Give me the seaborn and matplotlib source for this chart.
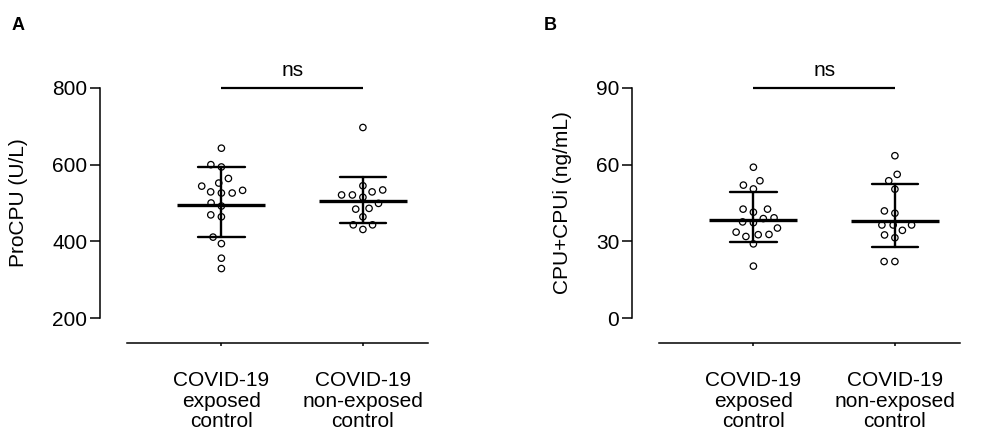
import numpy as np
import pandas as pd
import matplotlib
matplotlib.use("Agg")
import matplotlib.pyplot as plt
import seaborn as sns

# Group labels shared by both panels
groups = ["COVID-19\nexposed\ncontrol", "COVID-19\nnon-exposed\ncontrol"]

# Panel A: ProCPU activity (U/L)
procpu_exposed = [643, 600, 594, 564, 552, 544, 533, 529, 526, 526,
                  500, 492, 469, 464, 411, 394, 356, 329]
procpu_nonexposed = [697, 545, 534, 529, 521, 521, 515, 499, 486, 484,
                     464, 443, 443, 431]
procpu_ticks = [200, 400, 600, 800]

# Panel B: CPU+CPUi antigen (ng/mL)
cpu_exposed = [59.0, 53.7, 52.0, 50.5, 42.6, 42.6, 41.4, 39.2, 38.9, 37.6,
               37.3, 35.2, 33.6, 32.7, 32.6, 31.9, 29.0, 20.3]
cpu_nonexposed = [63.5, 56.2, 53.7, 50.4, 41.9, 41.0, 36.4, 36.4, 36.4, 34.3,
                  32.5, 31.4, 22.1, 22.1]
cpu_ticks = [0, 30, 60, 90]

panel_letters = ["A", "B"]
y_labels = ["ProCPU (U/L)", "CPU+CPUi (ng/mL)"]
significance = ["ns", "ns"]


def geo_mean(v):
    return float(np.exp(np.mean(np.log(v))))


def geo_sd_interval(v):
    lv = np.log(np.asarray(v, dtype=float))
    m, s = lv.mean(), lv.std(ddof=1)
    return float(np.exp(m - s)), float(np.exp(m + s))


sns.set_theme(style="ticks")
plt.rcParams["font.family"] = ["Liberation Sans", "DejaVu Sans"]
plt.rcParams.update({"text.color": "black", "axes.labelcolor": "black",
                     "xtick.color": "black", "ytick.color": "black",
                     "axes.edgecolor": "black"})

W, H, DPI = 982, 441, 100
fig = plt.figure(figsize=(W / DPI, H / DPI), dpi=DPI)

# pixel geometry of the plotting boxes
box_top, box_bottom = 88.0, 342.5
spine_bottom_px = 318.0
box_lefts = [127.0, 659.0]
box_width = 301.0
spine_offset_px = 27.0
label_x = [-0.33, -0.29]
letter_x = [12, 544]

datasets = [(procpu_exposed, procpu_nonexposed, procpu_ticks),
            (cpu_exposed, cpu_nonexposed, cpu_ticks)]

axes = []
for i, (g1, g2, ticks) in enumerate(datasets):
    ax = fig.add_axes([box_lefts[i] / W, (H - box_bottom) / H,
                       box_width / W, (box_bottom - box_top) / H])
    axes.append(ax)
    df = pd.DataFrame({
        "group": [groups[0]] * len(g1) + [groups[1]] * len(g2),
        "value": list(g1) + list(g2),
    })

    # individual measurements
    sns.swarmplot(data=df, x="group", y="value", order=groups, ax=ax,
                  color="black", size=6.4, zorder=3)
    for coll in ax.collections:
        coll.set_facecolor("none")
        coll.set_edgecolor("black")
        coll.set_linewidth(1.0)

    # geometric mean with geometric SD
    sns.pointplot(data=df, x="group", y="value", order=groups, ax=ax,
                  estimator=geo_mean, errorbar=geo_sd_interval,
                  color="black", marker="_", markersize=63,
                  markeredgewidth=2.4, linestyle="none", capsize=0.33,
                  err_kws={"linewidth": 1.7})
    for ln in ax.lines:
        ln.set_zorder(5)

    lo, hi = ticks[0], ticks[-1]
    px_per_unit = (spine_bottom_px - box_top) / (hi - lo)
    ax.set_ylim(lo - (box_bottom - spine_bottom_px) / px_per_unit, hi)
    ax.set_xlim(-0.667, 1.46)
    ax.set_yticks(ticks)
    ax.set_xticks([0, 1])
    ax.set_xticklabels(groups)
    for t in ax.get_xticklabels():
        t.set_linespacing(1.1)

    sns.despine(ax=ax)
    ax.spines["left"].set_position(("outward", spine_offset_px * 72 / DPI))
    ax.spines["left"].set_bounds(lo, hi)
    for side in ("left", "bottom"):
        ax.spines[side].set_linewidth(1.1)
        ax.spines[side].set_color("black")
    ax.tick_params(axis="y", length=7.2, width=1.1, pad=2, labelsize=15,
                   colors="black")
    ax.tick_params(axis="x", length=1.8, width=1.1, pad=19, labelsize=15,
                   colors="black")

    ax.set_xlabel("")
    ax.set_ylabel(y_labels[i], fontsize=15, color="black")
    ax.yaxis.set_label_coords(label_x[i], (box_bottom - 203) / (box_bottom - box_top))

    # comparison bracket
    ax.hlines(hi, 0, 1, color="black", linewidth=1.6, clip_on=False)
    ax.annotate(significance[i], xy=(0.5, hi), xytext=(0, 6),
                textcoords="offset points", ha="center", va="bottom",
                fontsize=15, color="black", annotation_clip=False)

    fig.text(letter_x[i] / W, 1 - 17 / H, panel_letters[i], fontsize=13,
             fontweight="bold", va="top", ha="left", color="black")

# lay out the swarms with wide spacing, then draw the markers smaller
fig.canvas.draw()
for ax in axes:
    for coll in ax.collections:
        if "draw" in coll.__dict__:
            del coll.draw
            coll.set_sizes([4.6 ** 2])
            coll.set_linewidth(0.9)

fig.savefig("out.png", dpi=DPI)
